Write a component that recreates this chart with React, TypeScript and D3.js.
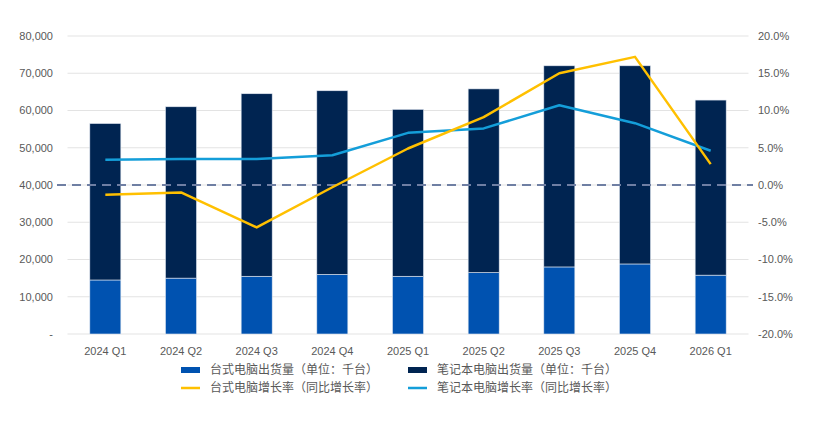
import { useMemo } from "react";
import * as d3 from "d3";

// quarterly shipment data (thousand units) and YoY growth (%)
const quarters = ["2024 Q1", "2024 Q2", "2024 Q3", "2024 Q4", "2025 Q1", "2025 Q2", "2025 Q3", "2025 Q4", "2026 Q1"];
const desktopShip = [14500, 15000, 15500, 16000, 15500, 16500, 18000, 18800, 15800];
const laptopShip = [42000, 46000, 49000, 49300, 44800, 49300, 54000, 53200, 47000];
const desktopGrowth = [-1.3, -1.0, -5.7, -0.3, 4.9, 9.1, 15.0, 17.2, 2.8];
const laptopGrowth = [3.4, 3.5, 3.5, 4.0, 7.0, 7.6, 10.7, 8.3, 4.6];
const leftTicks = [0, 10000, 20000, 30000, 40000, 50000, 60000, 70000, 80000];
const rightTicks = [-20, -15, -10, -5, 0, 5, 10, 15, 20];

const W = 828,
	H = 423;
const plot = { left: 67.5, right: 748.5, top: 36, bottom: 334 };

const C = {
	desktop: "#0052b0",
	laptop: "#002451",
	yellow: "#ffc000",
	blue: "#149ed9",
	grid: "#e3e3e3",
	dash: "#6f7fa3",
	text: "#595959",
};

const font = "'Liberation Sans', Arial, 'Noto Sans CJK SC', sans-serif";
const cjkFont = "'Noto Sans CJK SC', 'Liberation Sans', sans-serif";

export default function App() {
	const x = useMemo(() => d3.scaleBand().domain(quarters).range([plot.left, plot.right]).paddingInner(0.59).paddingOuter(0.295), []);
	const yL = d3.scaleLinear().domain([0, 80000]).range([plot.bottom, plot.top]);
	const yR = d3.scaleLinear().domain([-20, 20]).range([plot.bottom, plot.top]);
	const fmt = d3.format(",");

	const cx = (q) => x(q) + x.bandwidth() / 2;
	const growthLine = d3
		.line()
		.x((d, i) => cx(quarters[i]))
		.y((d) => yR(d));

	const legend = [
		{ label: "台式电脑出货量（单位：千台）", color: C.desktop, kind: "rect", x: 181, y: 370 },
		{ label: "笔记本电脑出货量（单位：千台）", color: C.laptop, kind: "rect", x: 408, y: 370 },
		{ label: "台式电脑增长率（同比增长率）", color: C.yellow, kind: "line", x: 181, y: 388 },
		{ label: "笔记本电脑增长率（同比增长率）", color: C.blue, kind: "line", x: 408, y: 388 },
	];

	return (
		<svg width={W} height={H} style={{ position: "absolute", left: 0, top: 0, display: "block", background: "#fff" }}>
			{/* gridlines */}
			{leftTicks.map((t) => (
				<line key={t} x1={plot.left} x2={plot.right} y1={yL(t)} y2={yL(t)} stroke={C.grid} strokeWidth={1} />
			))}
			{/* left axis labels */}
			{leftTicks.map((t) => (
				<text key={"l" + t} x={53} y={yL(t)} dy="0.35em" textAnchor="end" fontSize={11} fontFamily={font} fill={C.text}>
					{t === 0 ? "-" : fmt(t)}
				</text>
			))}
			{/* right axis labels */}
			{rightTicks.map((t) => (
				<text key={"r" + t} x={758} y={yR(t)} dy="0.35em" textAnchor="start" fontSize={11} fontFamily={font} fill={C.text}>
					{t.toFixed(1) + "%"}
				</text>
			))}
			{/* stacked bars */}
			{quarters.map((q, i) => (
				<g key={q}>
					<rect
						x={x(q)}
						y={yL(desktopShip[i])}
						width={x.bandwidth()}
						height={yL(0) - yL(desktopShip[i])}
						fill={C.desktop}
						stroke="#dfe6f0"
						strokeWidth={0.6}
					/>
					<rect
						x={x(q)}
						y={yL(desktopShip[i] + laptopShip[i])}
						width={x.bandwidth()}
						height={yL(desktopShip[i]) - yL(desktopShip[i] + laptopShip[i])}
						fill={C.laptop}
						stroke="#dfe6f0"
						strokeWidth={0.6}
					/>
				</g>
			))}
			{/* zero growth dashed line */}
			<line x1={57} x2={753} y1={yR(0)} y2={yR(0)} stroke={C.dash} strokeWidth={2} strokeDasharray="9,6" />
			{/* growth lines */}
			<path d={growthLine(laptopGrowth)} fill="none" stroke={C.blue} strokeWidth={2.5} strokeLinejoin="round" />
			<path d={growthLine(desktopGrowth)} fill="none" stroke={C.yellow} strokeWidth={2.5} strokeLinejoin="round" />
			{/* category labels */}
			{quarters.map((q) => (
				<text key={"x" + q} x={cx(q)} y={351} dy="0.35em" textAnchor="middle" fontSize={11} fontFamily={font} fill={C.text}>
					{q}
				</text>
			))}
			{/* legend */}
			{legend.map((l) => (
				<g key={l.label}>
					{l.kind === "rect" ? (
						<rect x={l.x} y={l.y - 3} width={19} height={6} fill={l.color} />
					) : (
						<line x1={l.x} x2={l.x + 19} y1={l.y} y2={l.y} stroke={l.color} strokeWidth={2.5} />
					)}
					<text x={l.x + 29} y={l.y} dy="0.35em" fontSize={12} fontFamily={cjkFont} fill={C.text}>
						{l.label}
					</text>
				</g>
			))}
		</svg>
	);
}
